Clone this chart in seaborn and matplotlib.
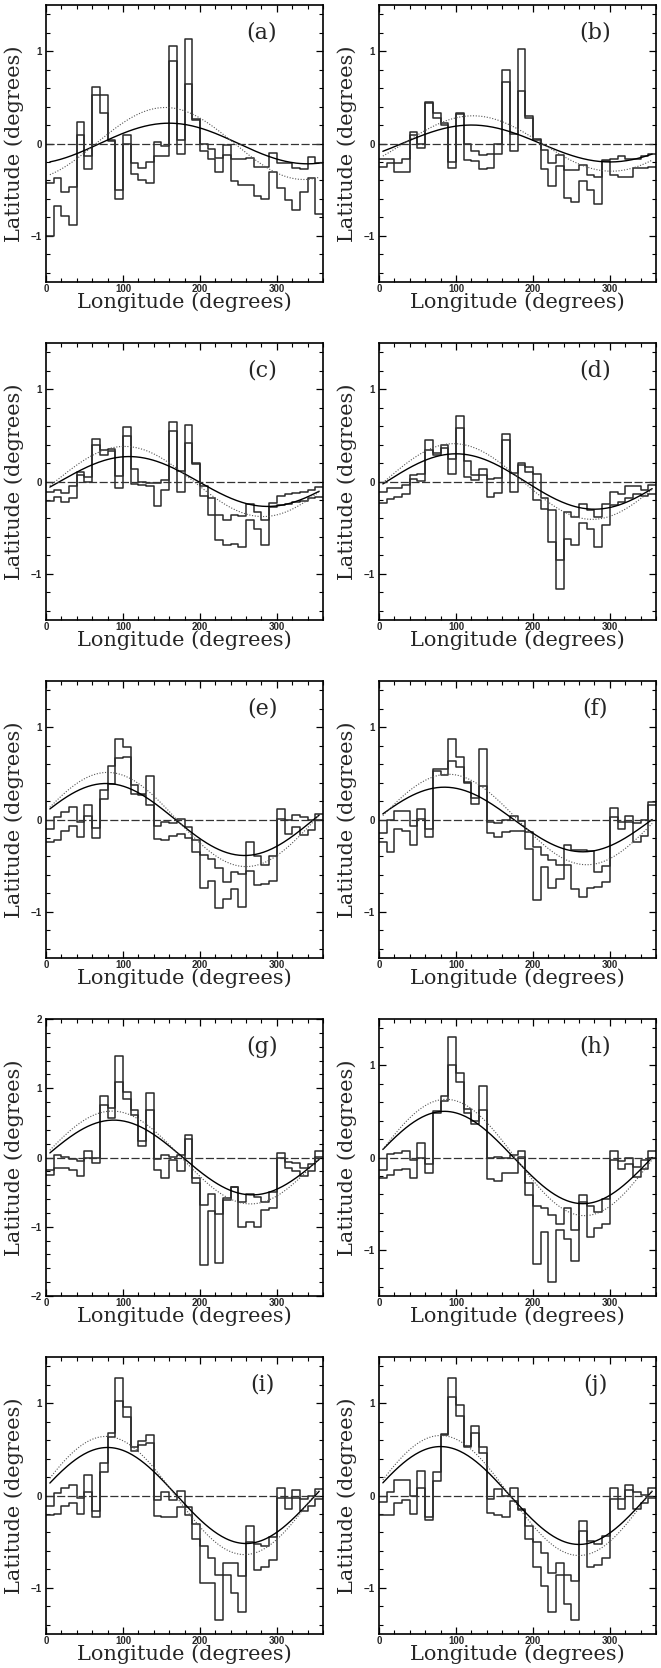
import numpy as np
import matplotlib
matplotlib.use("Agg")
import matplotlib.pyplot as plt
from matplotlib.ticker import MultipleLocator
import seaborn as sns

# 36 longitude bins of 10 degrees
bin_edges = list(range(0, 370, 10))

upper_a = [-0.43, -0.37, -0.52, -0.47, 0.23, -0.13, 0.61, 0.52, 0.04, -0.50, 0.09, -0.21,
           -0.27, -0.20, 0.02, -0.03, 1.06, 0.04, 1.13, 0.26, -0.01, -0.06, -0.16, -0.02,
           -0.17, -0.17, -0.16, -0.25, -0.25, -0.10, -0.21, -0.21, -0.27, -0.28, -0.15, -0.21]
lower_a = [-1.00, -0.68, -0.79, -0.88, 0.09, -0.28, 0.52, 0.33, 0.03, -0.60, -0.01, -0.33,
           -0.40, -0.43, -0.14, -0.13, 0.89, -0.11, 0.64, 0.25, -0.08, -0.17, -0.31, -0.12,
           -0.41, -0.45, -0.45, -0.57, -0.60, -0.31, -0.48, -0.61, -0.72, -0.52, -0.37, -0.76]

upper_b = [-0.17, -0.17, -0.21, -0.17, 0.12, 0.00, 0.45, 0.33, 0.22, -0.20, 0.33, -0.01,
           -0.08, -0.12, -0.11, 0.00, 0.80, 0.10, 1.02, 0.30, 0.05, -0.07, -0.21, -0.12,
           -0.29, -0.29, -0.23, -0.34, -0.36, -0.18, -0.17, -0.14, -0.17, -0.17, -0.13, -0.11]
lower_b = [-0.25, -0.21, -0.31, -0.31, 0.09, -0.05, 0.44, 0.28, 0.20, -0.26, 0.32, -0.18,
           -0.19, -0.28, -0.26, -0.11, 0.67, -0.08, 0.57, 0.28, 0.04, -0.28, -0.46, -0.24,
           -0.59, -0.63, -0.41, -0.50, -0.65, -0.19, -0.34, -0.36, -0.36, -0.26, -0.26, -0.25]

upper_c = [-0.11, -0.09, -0.12, -0.05, 0.10, 0.05, 0.46, 0.34, 0.35, 0.06, 0.59, 0.13,
           0.00, -0.02, -0.02, 0.02, 0.64, 0.11, 0.61, 0.20, -0.05, -0.18, -0.36, -0.42,
           -0.36, -0.37, -0.24, -0.33, -0.42, -0.23, -0.16, -0.13, -0.12, -0.11, -0.09, -0.06]
lower_c = [-0.21, -0.17, -0.22, -0.18, 0.07, -0.01, 0.39, 0.29, 0.33, -0.07, 0.49, -0.03,
           -0.04, -0.05, -0.26, -0.09, 0.55, -0.11, 0.42, 0.19, -0.16, -0.36, -0.63, -0.69,
           -0.68, -0.71, -0.42, -0.51, -0.69, -0.28, -0.25, -0.24, -0.22, -0.21, -0.18, -0.17]

upper_d = [-0.11, -0.07, -0.07, -0.04, 0.07, 0.08, 0.45, 0.31, 0.39, 0.24, 0.71, 0.22,
           0.07, 0.13, 0.03, 0.04, 0.51, 0.09, 0.20, 0.16, 0.08, -0.18, -0.31, -0.85,
           -0.33, -0.38, -0.24, -0.31, -0.38, -0.24, -0.11, -0.14, -0.05, -0.05, -0.09, -0.04]
lower_d = [-0.23, -0.19, -0.17, -0.14, 0.03, 0.01, 0.34, 0.29, 0.36, 0.08, 0.58, 0.05,
           0.02, 0.07, -0.17, -0.12, 0.45, -0.11, 0.18, 0.10, -0.20, -0.30, -0.66, -1.16,
           -0.62, -0.69, -0.45, -0.51, -0.71, -0.47, -0.25, -0.22, -0.18, -0.14, -0.16, -0.14]

upper_e = [-0.10, 0.03, 0.08, 0.13, -0.03, 0.16, -0.09, 0.32, 0.58, 0.87, 0.79, 0.37,
           0.28, 0.47, -0.07, -0.03, -0.04, 0.01, -0.08, -0.22, -0.38, -0.43, -0.53, -0.68,
           -0.57, -0.59, -0.24, -0.40, -0.49, -0.40, 0.11, -0.01, 0.05, 0.03, 0.00, 0.06]
lower_e = [-0.24, -0.22, -0.12, -0.07, -0.19, 0.04, -0.20, 0.22, 0.38, 0.67, 0.68, 0.28,
           0.27, 0.16, -0.21, -0.22, -0.18, -0.16, -0.20, -0.35, -0.74, -0.67, -0.96, -0.86,
           -0.75, -0.95, -0.56, -0.71, -0.70, -0.67, 0.01, -0.16, -0.08, -0.17, -0.11, -0.01]

upper_f = [-0.15, -0.01, 0.09, 0.09, -0.07, 0.11, -0.10, 0.55, 0.55, 0.87, 0.68, 0.41,
           0.23, 0.76, -0.03, -0.04, -0.01, 0.04, -0.02, -0.13, -0.30, -0.38, -0.44, -0.49,
           -0.28, -0.33, -0.33, -0.34, -0.57, -0.50, 0.12, -0.03, 0.04, -0.04, -0.01, 0.19]
lower_f = [-0.24, -0.35, -0.10, -0.12, -0.28, 0.01, -0.19, 0.52, 0.48, 0.63, 0.57, 0.39,
           0.17, 0.36, -0.15, -0.19, -0.13, -0.12, -0.12, -0.32, -0.87, -0.51, -0.74, -0.64,
           -0.49, -0.75, -0.84, -0.74, -0.73, -0.68, 0.03, -0.10, -0.03, -0.24, -0.18, 0.16]

upper_g = [-0.18, 0.03, 0.01, -0.02, -0.05, 0.10, 0.00, 0.89, 0.72, 1.46, 0.95, 0.69,
           0.24, 0.93, -0.02, 0.03, 0.01, 0.04, 0.33, -0.30, -0.68, -0.52, -0.81, -0.59,
           -0.42, -0.64, -0.53, -0.57, -0.64, -0.50, 0.06, -0.06, -0.08, -0.15, -0.10, 0.10]
lower_g = [-0.25, -0.15, -0.15, -0.18, -0.27, 0.00, -0.08, 0.76, 0.57, 1.09, 0.85, 0.61,
           0.17, 0.68, -0.18, -0.29, -0.03, -0.19, 0.26, -0.37, -1.55, -0.77, -1.52, -0.61,
           -0.43, -1.00, -0.93, -1.00, -0.76, -0.73, -0.01, -0.15, -0.19, -0.26, -0.19, 0.01]

upper_h = [-0.13, 0.04, 0.05, 0.07, -0.03, 0.16, -0.07, 0.50, 0.67, 1.30, 0.91, 0.53,
           0.39, 0.77, 0.00, 0.01, 0.00, 0.03, 0.07, -0.28, -0.52, -0.55, -0.62, -0.72,
           -0.55, -0.78, -0.41, -0.53, -0.59, -0.45, 0.07, -0.04, 0.00, -0.10, -0.03, 0.07]
lower_h = [-0.22, -0.19, -0.13, -0.12, -0.22, 0.00, -0.17, 0.48, 0.61, 1.00, 0.82, 0.48,
           0.36, 0.51, -0.23, -0.25, -0.17, -0.17, 0.01, -0.41, -1.15, -0.81, -1.35, -0.78,
           -0.88, -1.12, -0.48, -0.86, -0.76, -0.72, -0.03, -0.12, -0.07, -0.21, -0.12, 0.00]

upper_i = [-0.11, 0.03, 0.08, 0.11, -0.03, 0.22, -0.17, 0.35, 0.68, 1.27, 0.96, 0.52,
           0.59, 0.65, -0.05, 0.04, -0.05, 0.05, -0.12, -0.31, -0.55, -0.68, -0.86, -0.73,
           -0.73, -0.87, -0.33, -0.52, -0.55, -0.45, 0.08, -0.03, 0.06, -0.04, -0.01, 0.07]
lower_i = [-0.21, -0.20, -0.11, -0.08, -0.20, 0.04, -0.23, 0.25, 0.63, 1.02, 0.85, 0.48,
           0.55, 0.57, -0.22, -0.23, -0.23, -0.12, -0.21, -0.47, -0.95, -0.95, -1.35, -0.86,
           -1.06, -1.26, -0.50, -0.81, -0.77, -0.70, -0.03, -0.15, -0.03, -0.17, -0.11, -0.04]

upper_j = [-0.07, 0.04, 0.17, 0.17, -0.01, 0.27, -0.23, 0.25, 0.67, 1.27, 0.98, 0.54,
           0.75, 0.52, -0.04, 0.07, -0.01, 0.08, -0.15, -0.33, -0.50, -0.62, -0.84, -0.73,
           -0.86, -0.93, -0.28, -0.49, -0.53, -0.44, 0.08, -0.04, 0.11, 0.04, 0.01, 0.08]
lower_j = [-0.21, -0.21, -0.08, -0.05, -0.20, 0.08, -0.27, 0.16, 0.65, 1.07, 0.86, 0.52,
           0.68, 0.46, -0.19, -0.21, -0.23, -0.06, -0.16, -0.47, -0.77, -0.98, -1.26, -0.86,
           -1.17, -1.35, -0.38, -0.77, -0.75, -0.68, -0.04, -0.15, 0.06, -0.15, -0.08, -0.03]

# fitted sinusoids: (amplitude, longitude of maximum)
solid_fit = {"a": (0.22, 160), "b": (0.20, 120), "c": (0.27, 108), "d": (0.30, 100),
             "e": (0.39, 78), "f": (0.35, 85), "g": (0.54, 88), "h": (0.50, 85),
             "i": (0.52, 80), "j": (0.53, 80)}
dotted_fit = {"a": (0.39, 155), "b": (0.30, 122), "c": (0.38, 102), "d": (0.41, 97),
              "e": (0.51, 80), "f": (0.49, 90), "g": (0.67, 86), "h": (0.63, 87),
              "i": (0.64, 78), "j": (0.65, 80)}

panels = [("a", upper_a, lower_a), ("b", upper_b, lower_b),
          ("c", upper_c, lower_c), ("d", upper_d, lower_d),
          ("e", upper_e, lower_e), ("f", upper_f, lower_f),
          ("g", upper_g, lower_g), ("h", upper_h, lower_h),
          ("i", upper_i, lower_i), ("j", upper_j, lower_j)]

sns.set_theme(style="ticks")
plt.rcParams["font.family"] = ["DejaVu Serif"]

W, H = 661, 1668
fig = plt.figure(figsize=(W / 100, H / 100), dpi=100)

col_left = [46, 379]
row_top = [5, 343, 681, 1019, 1357]
size = 277

lon = np.linspace(5, 355, 200)
tick_font = dict(fontweight="bold", family="Liberation Sans", fontsize=7)

for k, (tag, upper, lower) in enumerate(panels):
    r, c = divmod(k, 2)
    ax = fig.add_axes([col_left[c] / W, 1 - (row_top[r] + size) / H, size / W, size / H])

    for vals in (upper, lower):
        sns.lineplot(x=bin_edges, y=list(vals) + [vals[-1]], ax=ax, drawstyle="steps-post",
                     color="#2a2a2a", lw=1.1, estimator=None, sort=False)

    amp, peak = solid_fit[tag]
    sns.lineplot(x=lon, y=amp * np.cos(np.radians(lon - peak)), ax=ax,
                 color="black", lw=1.0, estimator=None, sort=False)
    amp, peak = dotted_fit[tag]
    sns.lineplot(x=lon, y=amp * np.cos(np.radians(lon - peak)), ax=ax,
                 color="#555555", lw=0.8, ls=(0, (1, 1.5)), estimator=None, sort=False)

    ax.axhline(0, color="#333333", lw=0.9, ls=(0, (6.5, 2)))

    ax.set_xlim(0, 360)
    ax.set_xticks([0, 100, 200, 300], labels=["0", "100", "200", "300"], **tick_font)
    ax.xaxis.set_minor_locator(MultipleLocator(20))
    if tag == "g":
        ax.set_ylim(-2, 2)
        ax.set_yticks([-2, -1, 0, 1, 2], labels=["\u22122", "\u22121", "0", "1", "2"],
                      **tick_font)
    else:
        ax.set_ylim(-1.5, 1.5)
        ax.set_yticks([-1, 0, 1], labels=["\u22121", "0", "1"], **tick_font)
    ax.yaxis.set_minor_locator(MultipleLocator(0.2))

    ax.tick_params(which="both", direction="in", top=True, right=True, color="black")
    ax.tick_params(which="major", length=5, width=0.9)
    ax.tick_params(which="minor", length=3, width=0.8)
    ax.tick_params(axis="x", pad=1.5)
    ax.tick_params(axis="y", pad=3)
    for sp in ax.spines.values():
        sp.set_color("black")
        sp.set_linewidth(1.2)

    ax.set_xlabel("Longitude (degrees)", fontsize=15)
    ax.set_ylabel("Latitude (degrees)", fontsize=15)
    ax.xaxis.set_label_coords(0.5, -0.038)
    ax.yaxis.set_label_coords(-0.078, 0.5)
    ax.text(0.78, 0.9, f"({tag})", transform=ax.transAxes, fontsize=16,
            ha="center", va="center")

fig.savefig("out.png", dpi=100)
